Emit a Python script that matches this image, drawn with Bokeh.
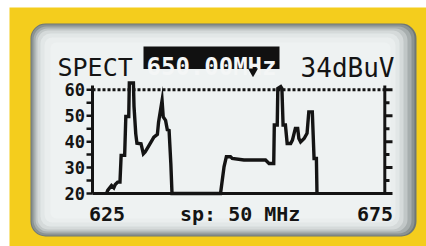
from bokeh.plotting import figure
from bokeh.models import BoxAnnotation
from bokeh.core.properties import value
from bokeh.embed import file_html
from bokeh.resources import INLINE

# ---------------- data ----------------
freq_mhz = [627.4, 627.6, 628.25, 628.65, 628.9, 629.3, 629.7, 629.9, 630.5, 630.7, 631.2,
            631.3, 632.0, 632.1, 632.4, 632.6, 633.3, 633.7, 634.0, 634.5, 635.0, 635.5,
            636.1, 636.3, 636.9, 637.1, 637.5, 637.8, 638.1, 638.4, 638.6,
            646.9, 647.5, 647.9, 648.6, 648.9, 650.9, 653.2, 654.6, 655.2, 656.0, 656.1,
            656.6, 656.7, 657.2, 657.4, 657.6, 658.0, 658.3, 658.9, 659.2, 659.7, 660.1,
            660.3, 660.6, 661.2, 661.7, 662.0, 662.6, 662.9, 663.3, 663.4]
level_dbuv = [20.0, 21.2, 23.1, 22.2, 23.5, 24.4, 24.4, 34.7, 34.7, 49.7, 49.7,
              62.6, 62.6, 53.6, 43.0, 39.4, 39.2, 35.3, 36.0, 37.9, 39.8, 41.7,
              42.8, 47.5, 55.9, 49.5, 48.2, 44.6, 44.3, 31.5, 20.0,
              20.0, 30.3, 34.2, 34.2, 33.5, 32.9, 32.9, 32.9, 31.6, 31.6, 46.4,
              46.4, 60.5, 61.2, 60.5, 46.4, 46.4, 39.3, 39.3, 40.6, 45.1, 45.1,
              41.2, 39.9, 41.2, 43.2, 51.5, 51.5, 33.5, 33.5, 20.0]

f_start, f_end = 625, 675
y_ticks = [20, 30, 40, 50, 60]
y_tick_labels = ["20", "30", "40", "50", "60"]
y_minor = [25, 35, 45, 55]
ref_level = 60
x_labels = ["625", "675"]
span_label = "sp: 50 MHz"
mode_label = "SPECT"
center_label = "650.00MHz"
reading_label = "34dBuV"

# ---------------- pixel <-> data helpers (layout only) ----------------
PX0, PX1 = 92.0, 384.3     # pixel x of 625 / 675
PY20, PY60 = 193.0, 89.3   # pixel y of 20 / 60
sx = (PX1 - PX0) / (f_end - f_start)
sy = (PY20 - PY60) / 40.0

def X(px):
    return f_start + (px - PX0) / sx

def Y(py):
    return 20 + (PY20 - py) / sy

W, H = 426, 246
p = figure(width=W, height=H, output_backend="svg", toolbar_location=None,
           x_range=(X(0), X(W)), y_range=(Y(H), Y(0)),
           x_axis_location=None, y_axis_location=None, min_border=0)
p.grid.visible = False
p.outline_line_color = None
p.background_fill_color = "#ffffff"
p.border_fill_color = "#ffffff"

# yellow housing
p.add_layout(BoxAnnotation(left=X(9), right=X(W + 5), top=Y(7), bottom=Y(H + 5),
                           fill_color="#f4cd1d", fill_alpha=1, line_color=None,
                           level="underlay"))

# screen with vignette
layers = [
    (30, 23, 416, 236, "#6f7775", 15),
    (31, 24, 414, 235, "#8b9392", 14),
    (33, 26, 411, 233, "#a7aeae", 13),
    (35, 28, 407, 231, "#c1c7c7", 12),
    (37, 30, 403, 229, "#d5dada", 11),
    (40, 33, 399, 226, "#e2e7e7", 10),
    (44, 37, 395, 222, "#eaeeee", 8),
    (50, 42, 390, 218, "#eef2f2", 6),
]
for l, t, r, b, c, rad in layers:
    p.add_layout(BoxAnnotation(left=X(l), right=X(r), top=Y(t), bottom=Y(b),
                               fill_color=c, fill_alpha=1, line_color=None,
                               border_radius=rad, level="underlay"))

# header box
p.add_layout(BoxAnnotation(left=X(143), right=X(279), top=Y(46), bottom=Y(68.5),
                           fill_color="#111111", fill_alpha=1, line_color=None,
                           level="underlay"))

ink = "#141414"
mono = value("DejaVu Sans Mono")

# reference dotted line at 60
p.line([f_start, f_end], [ref_level, ref_level], line_color=ink, line_width=3,
       line_dash="3 2")

# axes lines
p.line([f_start, f_start], [20, Y(85)], line_color=ink, line_width=3)
p.line([f_end, f_end], [20, Y(85)], line_color=ink, line_width=3)
p.line([f_start, X(391.5)], [20, 20], line_color=ink, line_width=3)

# left ticks
all_ticks = sorted(y_ticks + y_minor)
p.segment(x0=[X(86)] * len(all_ticks), x1=[f_start] * len(all_ticks),
          y0=all_ticks, y1=all_ticks, line_color=ink, line_width=2.5)
# right ticks (major longer)
p.segment(x0=[f_end] * len(y_ticks), x1=[X(392)] * len(y_ticks),
          y0=y_ticks, y1=y_ticks, line_color=ink, line_width=3)
p.segment(x0=[f_end] * len(y_minor), x1=[X(389)] * len(y_minor),
          y0=y_minor, y1=y_minor, line_color=ink, line_width=3)

# spectrum trace
p.line(freq_mhz, level_dbuv, line_color=ink, line_width=3.4, line_join="miter")

# y tick labels
p.text(x=[X(84.5)] * len(y_ticks), y=y_ticks, text=y_tick_labels,
       text_font=mono, text_font_style="bold", text_font_size="17px",
       text_color=ink, text_align="right", text_baseline="middle")

# x labels
p.text(x=[X(88.5)], y=[Y(213)], text=[x_labels[0]], text_font=mono,
       text_font_style="bold", text_font_size="20px", text_color=ink,
       text_align="left", text_baseline="alphabetic")
p.text(x=[X(392.5)], y=[Y(213)], text=[x_labels[1]], text_font=mono,
       text_font_style="bold", text_font_size="20px", text_color=ink,
       text_align="right", text_baseline="alphabetic")
p.text(x=[X(179.5)], y=[Y(213)], text=[span_label], text_font=mono,
       text_font_style="bold", text_font_size="20px", text_color=ink,
       text_align="left", text_baseline="alphabetic")

# header texts
p.text(x=[X(57)], y=[Y(67)], text=[mode_label], text_font=mono,
       text_font_size="25px", text_color=ink, text_align="left",
       text_baseline="alphabetic")
p.text(x=[X(211)], y=[Y(66.5)], text=[center_label], text_font=mono,
       text_font_style="bold", text_font_size="24px", text_color="#f4f6f6",
       text_align="center", text_baseline="alphabetic")
p.text(x=[X(394)], y=[Y(67)], text=[reading_label], text_font=mono,
       text_font_size="26px", text_color=ink, text_align="right",
       text_baseline="alphabetic")

# marker triangle under the header box
p.scatter(x=[X(252.5)], y=[Y(71)], marker="inverted_triangle", size=10,
          fill_color="#111111", line_color=None)

open("out.html", "w").write(file_html(p, INLINE))
